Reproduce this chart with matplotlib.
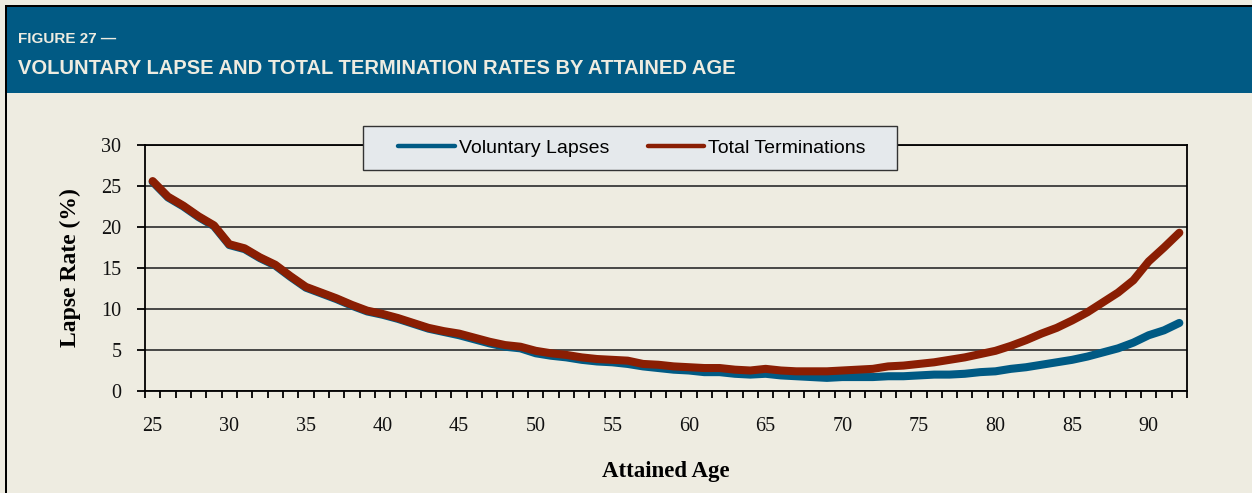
import matplotlib
matplotlib.use("Agg")
import matplotlib.pyplot as plt
from matplotlib.patches import Rectangle
from matplotlib.lines import Line2D
from matplotlib.ticker import FixedLocator

ages = list(range(25, 93))
total_terminations = [
    25.6, 23.7, 22.6, 21.3, 20.2, 17.9, 17.4, 16.3, 15.4, 14.0,
    12.7, 12.0, 11.3, 10.5, 9.8, 9.4, 8.9, 8.3, 7.7, 7.3,
    7.0, 6.5, 6.0, 5.6, 5.4, 4.9, 4.6, 4.4, 4.1, 3.9,
    3.8, 3.7, 3.3, 3.2, 3.0, 2.9, 2.8, 2.8, 2.6, 2.5,
    2.7, 2.5, 2.4, 2.4, 2.4, 2.5, 2.6, 2.7, 3.0, 3.1,
    3.3, 3.5, 3.8, 4.1, 4.5, 4.9, 5.5, 6.2, 7.0, 7.7,
    8.6, 9.6, 10.8, 12.0, 13.5, 15.8, 17.5, 19.3,
]
voluntary_lapses = [
    25.5, 23.6, 22.5, 21.2, 20.1, 17.8, 17.3, 16.2, 15.3, 13.9,
    12.6, 11.9, 11.2, 10.4, 9.7, 9.3, 8.8, 8.2, 7.6, 7.2,
    6.8, 6.3, 5.8, 5.4, 5.2, 4.6, 4.3, 4.1, 3.8, 3.6,
    3.5, 3.3, 3.0, 2.8, 2.6, 2.5, 2.3, 2.3, 2.1, 2.0,
    2.1, 1.9, 1.8, 1.7, 1.6, 1.7, 1.7, 1.7, 1.8, 1.8,
    1.9, 2.0, 2.0, 2.1, 2.3, 2.4, 2.7, 2.9, 3.2, 3.5,
    3.8, 4.2, 4.7, 5.2, 5.9, 6.8, 7.4, 8.3,
]
x_tick_labels = [25, 30, 35, 40, 45, 50, 55, 60, 65, 70, 75, 80, 85, 90]
y_ticks = [0, 5, 10, 15, 20, 25, 30]

BG = "#EEECE1"
HEADER = "#015A84"
BLUE = "#005A84"
RED = "#8A1E03"

W, H = 1252, 493
fig = plt.figure(figsize=(W / 100, H / 100), dpi=100, facecolor=BG)

# header band and frame lines
fig.patches.append(Rectangle((7 / W, 1 - 93 / H), 1, 86 / H, transform=fig.transFigure,
                             facecolor=HEADER, edgecolor="none", zorder=0))
fig.patches.append(Rectangle((5 / W, 0), 2 / W, 1 - 5 / H, transform=fig.transFigure,
                             facecolor="black", edgecolor="none", zorder=1))
fig.patches.append(Rectangle((5 / W, 1 - 7 / H), 1, 2 / H, transform=fig.transFigure,
                             facecolor="black", edgecolor="none", zorder=1))

fig.text(18 / W, 1 - 39 / H, "FIGURE 27 \u2014", color="#EEECE1", fontsize=11,
         fontweight="bold", family="Liberation Sans", va="center", ha="left")
fig.text(18 / W, 1 - 69 / H, "VOLUNTARY LAPSE AND TOTAL TERMINATION RATES BY ATTAINED AGE",
         color="#EEECE1", fontsize=14.5, fontweight="bold", family="Liberation Sans",
         va="center", ha="left")

ax = fig.add_axes([145 / W, (H - 391) / H, (1187 - 145) / W, (391 - 145) / H])
ax.set_facecolor(BG)

ax.plot(ages, voluntary_lapses, color=BLUE, lw=5.8, solid_capstyle="round",
        solid_joinstyle="round", zorder=3)
ax.plot(ages, total_terminations, color=RED, lw=5.8, solid_capstyle="round",
        solid_joinstyle="round", zorder=4)

ax.set_xlim(ages[0] - 0.5, ages[-1] + 0.5)
ax.set_ylim(0, 30)
ax.set_yticks(y_ticks)
ax.yaxis.grid(True, color="#3a3a3a", lw=1.3)
ax.set_axisbelow(True)

ax.xaxis.set_major_locator(FixedLocator(x_tick_labels))
ax.set_xticklabels([str(v) for v in x_tick_labels])
ax.xaxis.set_minor_locator(FixedLocator([a - 0.5 for a in ages] + [ages[-1] + 0.5]))
ax.tick_params(axis="x", which="major", length=0, pad=19, labelsize=14.5)
ax.tick_params(axis="x", which="minor", length=5, width=1.3, direction="out", color="black")
ax.tick_params(axis="y", length=6, width=1.3, direction="out", pad=11, labelsize=14.5)
for lab in ax.get_xticklabels() + ax.get_yticklabels():
    lab.set_family("Liberation Serif")
    lab.set_color("#111111")

for s in ax.spines.values():
    s.set_color("black")
    s.set_linewidth(1.3)

fig.text(70 / W, 1 - 268 / H, "Lapse Rate (%)", rotation=90, fontsize=17, fontweight="bold",
         family="Liberation Serif", ha="center", va="center")
fig.text(666 / W, 1 - 472 / H, "Attained Age", fontsize=16.5, fontweight="bold",
         family="Liberation Serif", ha="center", va="center")

# legend box drawn as its own frame, entries via legend without frame
fig.patches.append(Rectangle((363 / W, 1 - 170 / H), (897 - 363) / W, 44 / H,
                             transform=fig.transFigure, facecolor="#E5E9EC",
                             edgecolor="#333333", lw=1.0, zorder=5))
handles = [Line2D([], [], color=BLUE, lw=3.2, solid_capstyle="round"),
           Line2D([], [], color=RED, lw=3.2, solid_capstyle="round")]
leg = fig.legend(handles, ["Voluntary Lapses", "Total Terminations"],
                 loc="center", bbox_to_anchor=(632 / W, 1 - 148 / H), ncol=2,
                 frameon=False, handlelength=2.9, handletextpad=0.2, columnspacing=2.0,
                 prop={"family": "Liberation Sans", "size": 14})
leg.set_zorder(6)

fig.savefig("out.png", dpi=100, facecolor=BG)
